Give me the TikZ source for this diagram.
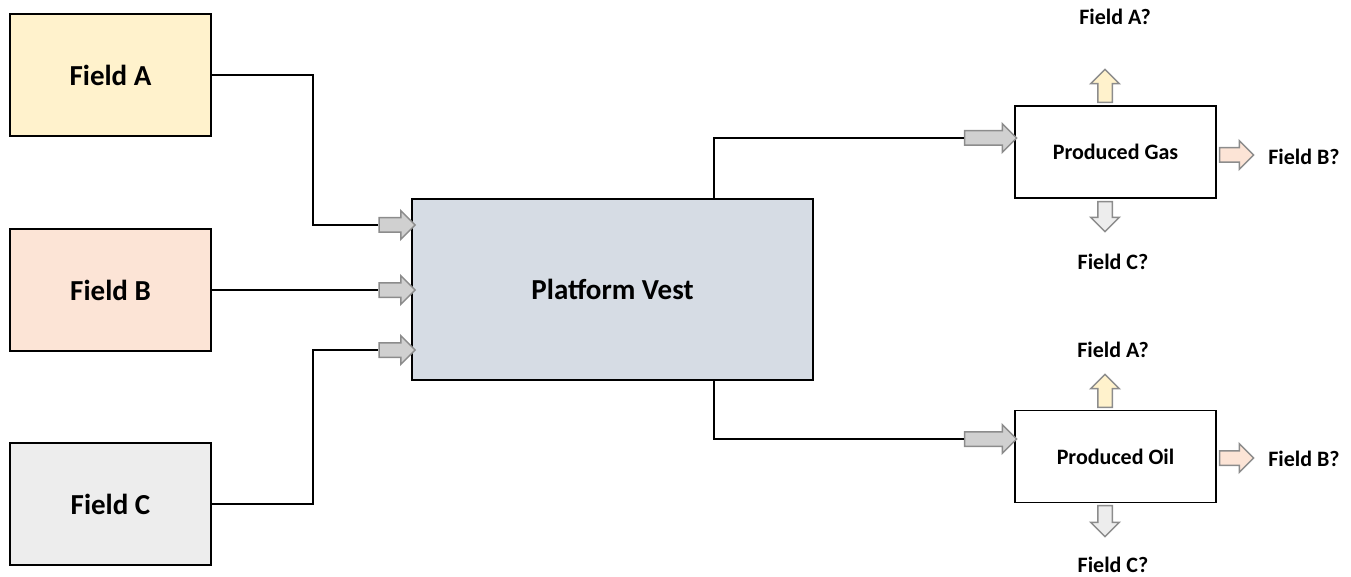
\documentclass[tikz,border=0pt]{standalone}
\usepackage{fontspec}
\setmainfont{Carlito}
\usetikzlibrary{shapes.arrows}
\definecolor{cA}{HTML}{FFF2CC}
\definecolor{cB}{HTML}{FCE4D6}
\definecolor{cC}{HTML}{EDEDED}
\definecolor{cP}{HTML}{D6DCE4}
\definecolor{cG}{HTML}{D0D0D0}
\definecolor{cE}{HTML}{8C8C8C}
\tikzset{
  fieldbox/.style={draw=black, line width=1.5pt, minimum width=201pt, minimum height=122pt, inner sep=0pt, font=\bfseries\fontsize{29}{33}\selectfont},
  prodbox/.style={draw=black, fill=white, line width=1.5pt, minimum width=201pt, minimum height=92pt, inner sep=0pt, font=\bfseries\fontsize{22}{26}\selectfont},
  blk/.style={single arrow, draw=cE, line width=1.5pt, inner xsep=0pt, inner ysep=6.5pt, minimum width=27pt, single arrow head extend=7pt, single arrow head indent=0pt},
  lbl/.style={font=\bfseries\fontsize{22}{26}\selectfont, inner sep=0pt},
  conn/.style={draw=black, line width=1.5pt}
}
\begin{document}
\begin{tikzpicture}[x=1pt, y=-1pt]
\useasboundingbox (0,0) rectangle (1351,577);
% fields
\node[fieldbox, fill=cA] (fa) at (110.5,75) {Field A};
\node[fieldbox, fill=cB] (fb) at (110.5,290) {Field B};
\node[fieldbox, fill=cC] (fc) at (110.5,504) {Field C};
% platform
\node[draw=black, fill=cP, line width=1.5pt, minimum width=401pt, minimum height=181pt, inner sep=0pt, font=\bfseries\fontsize{29}{33}\selectfont] (pv) at (612.5,289.5) {Platform Vest};
% input arrows
\node[blk, fill=cG, minimum height=36pt] (a1) at (393.5,225) {};
\node[blk, fill=cG, minimum height=36pt] (a2) at (393.5,290) {};
\node[blk, fill=cG, minimum height=36pt] (a3) at (393.5,350) {};
\draw[conn] (fa.east) -- (313,75) |- (a1.tail);
\draw[conn] (fb.east) -- (a2.tail);
\draw[conn] (fc.east) -- (313,504) |- (a3.tail);
% products
\node[prodbox] (gas) at (1115.5,152) {Produced Gas};
\node[prodbox] (oil) at (1115.5,456.5) {Produced Oil};
\node[blk, fill=cG, minimum height=52pt] (gi) at (987,138) {};
\node[blk, fill=cG, minimum height=52pt] (oi) at (987,439) {};
\draw[conn] (pv.north -| 714,0) |- (gi.tail);
\draw[conn] (pv.south -| 714,0) |- (oi.tail);
% gas outputs
\node[blk, fill=cA, minimum height=33pt, rotate=90] (gu) at (1105,89.5) {};
\node[blk, fill=cB, minimum height=34pt] (gr) at (1233,155) {};
\node[blk, fill=cC, minimum height=30pt, rotate=-90] (gd) at (1105,213) {};
\node[lbl] (gla) at (1115,17) {Field A?};
\node[lbl] (glb) at (1304,157) {Field B?};
\node[lbl] (glc) at (1113,262) {Field C?};
% oil outputs
\node[blk, fill=cA, minimum height=33pt, rotate=90] (ou) at (1105,394.5) {};
\node[blk, fill=cB, minimum height=34pt] (or) at (1233,458) {};
\node[blk, fill=cC, minimum height=31pt, rotate=-90] (od) at (1105,517.5) {};
\node[lbl] (ola) at (1113,350) {Field A?};
\node[lbl] (olb) at (1304,459) {Field B?};
\node[lbl] (olc) at (1113,565) {Field C?};
\end{tikzpicture}
\end{document}
